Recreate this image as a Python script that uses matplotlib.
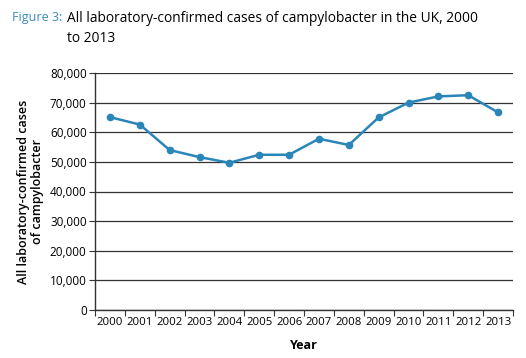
# Campylobacter lab-confirmed cases, UK 2000-2013
import matplotlib.pyplot as plt
from matplotlib.ticker import FuncFormatter, MultipleLocator

plt.rcParams['font.family'] = ['Open Sans', 'DejaVu Sans']

years = ['2000', '2001', '2002', '2003', '2004', '2005', '2006',
         '2007', '2008', '2009', '2010', '2011', '2012', '2013']
cases = [65100, 62600, 54000, 51600, 49700, 52400, 52400,
         57800, 55700, 65000, 70000, 72100, 72500, 66700]

line_col = '#2a86b8'

fig = plt.figure(figsize=(5.26, 3.58), dpi=100)
ax = fig.add_axes([95 / 526, 48 / 358, 418 / 526, 237 / 358])

x = list(range(len(years)))
ax.plot(x, cases, color=line_col, lw=1.8, marker='o', ms=4.5, zorder=3)

ax.set_xlim(-0.5, len(years) - 0.5)
ax.set_ylim(0, 80000)
ax.yaxis.set_major_locator(MultipleLocator(10000))
ax.yaxis.set_major_formatter(FuncFormatter(lambda v, p: f'{int(v):,}'))
ax.grid(axis='y', color='#333333', lw=0.9)
ax.set_axisbelow(True)

ax.set_xticks(x)
ax.set_xticklabels(years)
ax.set_xticks([i - 0.5 for i in range(len(years) + 1)], minor=True)
ax.tick_params(axis='x', which='major', length=0, labelsize=8.2, pad=5)
ax.tick_params(axis='x', which='minor', length=4, width=0.8, color='#333333')
ax.tick_params(axis='y', length=4, width=0.8, color='#333333', labelsize=8.5, pad=2)

for s in ['top', 'right']:
    ax.spines[s].set_visible(False)
for s in ['left', 'bottom']:
    ax.spines[s].set_color('#333333')
    ax.spines[s].set_linewidth(1.0)

ax.set_xlabel('Year', fontsize=9, fontweight='bold', labelpad=8)
ax.set_ylabel('All laboratory-confirmed cases\nof campylobacter', fontsize=9,
              fontweight='semibold', labelpad=4, linespacing=1.1,
              multialignment='center')

fig.text(12 / 526, 1 - 18 / 358, 'Figure 3:', color='#3a8dbd', fontsize=9, va='center')
fig.text(67 / 526, 1 - 18 / 358, 'All laboratory-confirmed cases of campylobacter in the UK, 2000',
         fontsize=9.9, va='center')
fig.text(67 / 526, 1 - 38 / 358, 'to 2013', fontsize=9.9, va='center')

fig.savefig('out.png', dpi=100)
